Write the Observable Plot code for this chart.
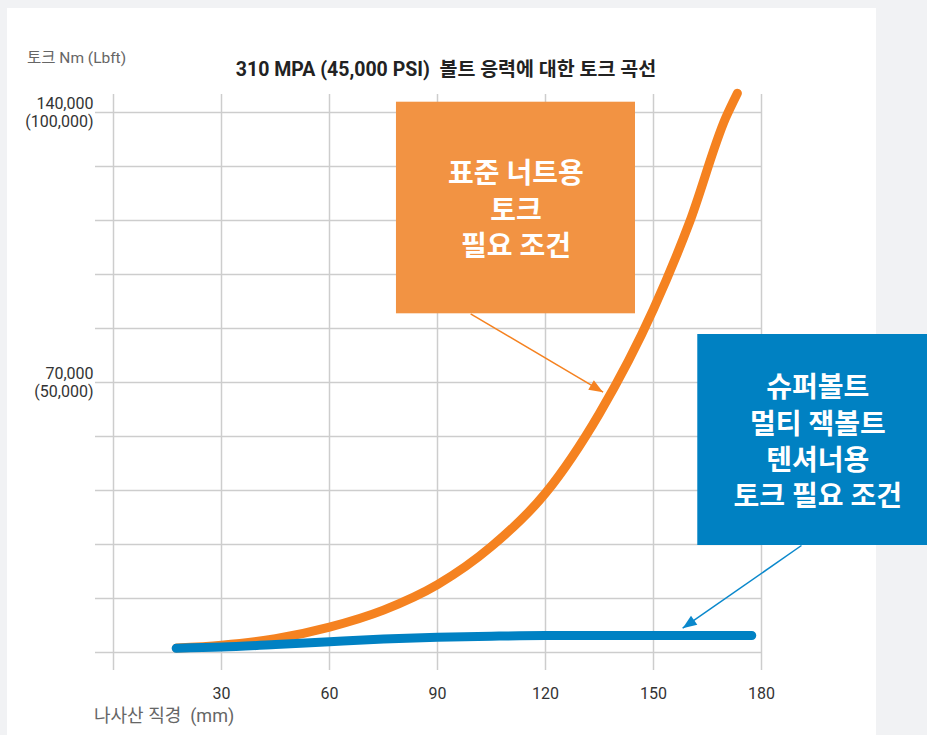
<!DOCTYPE html>
<html><head><meta charset="utf-8">
<script src="https://cdn.jsdelivr.net/npm/d3@7"></script>
<script src="https://cdn.jsdelivr.net/npm/@observablehq/plot@0.6"></script>
<style>
html,body{margin:0;padding:0;background:#f1f2f4;width:927px;height:735px;overflow:hidden;font-family:Roboto,"Noto Sans CJK KR",sans-serif;}
#card{position:absolute;left:7px;top:8px;width:869px;height:740px;background:#fff;}
#chart{position:absolute;left:0;top:0;}
.t{position:absolute;white-space:pre;line-height:1;}
#ylabel{left:27px;top:51px;font-size:15.5px;color:#666;}
#title{left:0;width:892px;text-align:center;top:60px;font-size:19.5px;font-weight:bold;color:#222;}
#xlabel{left:94px;top:707px;font-size:18px;color:#666;}
</style></head><body>
<div id="card"></div>
<div id="chart"></div>
<div class="t" id="ylabel">토크 Nm (Lbft)</div>
<div class="t" id="title">310 MPA (45,000 PSI)  볼트 응력에 대한 토크 곡선</div>
<div class="t" id="xlabel">나사산 직경  (mm)</div>
<script>
// ---- data ----
const xGridTicks = [0, 30, 60, 90, 120, 150, 180];
const xTicks = [30, 60, 90, 120, 150, 180];
const yGridTicks = [0, 14000, 28000, 42000, 56000, 70000, 84000, 98000, 112000, 126000, 140000];
const yTicks = [70000, 140000];
const yTickLabels = ["70,000\n(50,000)", "140,000\n(100,000)"];

// standard nut torque (Nm) vs thread diameter (mm)
const standardX = [17.5, 30, 45, 60, 75, 90, 105, 120, 135, 150, 160, 170, 173.3];
const standardY = [1150, 1900, 3600, 6600, 11000, 17600, 27500, 41300, 62000, 89000, 111500, 138500, 145000];
// superbolt multi-jackbolt tensioner torque
const superX = [17.4, 30, 45, 60, 75, 90, 105, 120, 150, 177.3];
const superY = [1100, 1400, 2050, 2800, 3500, 3950, 4230, 4400, 4420, 4420];

// annotation boxes (in data units)
const boxLabels = ["표준 너트용\n토크\n필요 조건", "슈퍼볼트\n멀티 잭볼트\n텐셔너용\n토크 필요 조건"];
const boxX1 = [78.6, 162.3];
const boxX2 = [145, 229];
const boxY1 = [87810, 27741];
const boxY2 = [142670, 82444];
const boxFill = ["#f29343", "#0081c2"];
// annotation arrows (start -> tip, data units)
const arrowX1 = [99.2, 191.1];
const arrowY1 = [87810, 27741];
const arrowX2 = [136.0, 158.1];
const arrowY2 = [67481, 6300];
const arrowColor = ["#f58220", "#0a88cc"];

// ---- layout ----
const W = 927, H = 735, mL = 95, mR = 166, mT = 94, mB = 65;
const xDomain = [-5, 180];
const yDomain = [-4667, 144667];

const standard = standardX.map((x, i) => ({x, y: standardY[i]}));
const superb = superX.map((x, i) => ({x, y: superY[i]}));
const boxes = boxLabels.map((label, i) => ({label, x1: boxX1[i], x2: boxX2[i], y1: boxY1[i], y2: boxY2[i], fill: boxFill[i]}));
const arrows = arrowX1.map((x1, i) => ({x1, y1: arrowY1[i], x2: arrowX2[i], y2: arrowY2[i], color: arrowColor[i]}));

const xs = Plot.scale({x: {domain: xDomain, range: [mL, W - mR]}});
const ys = Plot.scale({y: {domain: yDomain, range: [H - mB, mT]}});
function head(a) {
  const tx = xs.apply(a.x2), ty = ys.apply(a.y2);
  const sx = xs.apply(a.x1), sy = ys.apply(a.y1);
  const dx = tx - sx, dy = ty - sy, len = Math.hypot(dx, dy);
  const ux = dx / len, uy = dy / len;
  const L = 14, hw = 5.5;
  const bx = tx - ux * L, by = ty - uy * L;
  const pts = [[tx, ty], [bx - uy * hw, by + ux * hw], [bx + uy * hw, by - ux * hw], [tx, ty]];
  return pts.map(([px, py]) => ({x: xs.invert(px), y: ys.invert(py)}));
}

const marks = [
  Plot.gridX(xGridTicks, {stroke: "#cdcdcd", strokeOpacity: 1, strokeWidth: 1.5}),
  Plot.gridY(yGridTicks, {stroke: "#cdcdcd", strokeOpacity: 1, strokeWidth: 1.5}),
  Plot.text(yTicks, {y: d => d, text: (d, i) => yTickLabels[i], frameAnchor: "left", textAnchor: "end", dx: -2, lineHeight: 1.1, fontSize: 16, fill: "#333"}),
  Plot.text(xTicks, {x: d => d, text: d => String(d), frameAnchor: "bottom", dy: 28, fontSize: 16, fill: "#333"}),
  Plot.line(standard, {x: "x", y: "y", stroke: "#f58220", strokeWidth: 9, strokeLinecap: "round", curve: "monotone-x"}),
  Plot.line(superb, {x: "x", y: "y", stroke: "#0081c3", strokeWidth: 9, strokeLinecap: "round", curve: "monotone-x"}),
  Plot.link(arrows, {x1: "x1", y1: "y1", x2: "x2", y2: "y2", stroke: d => d.color, strokeWidth: 1.5}),
  ...arrows.map(a => Plot.line(head(a), {x: "x", y: "y", fill: a.color, stroke: "none"})),
  Plot.rect(boxes, {x1: "x1", x2: "x2", y1: "y1", y2: "y2", fill: d => d.fill}),
  Plot.text(boxes, {x: d => (d.x1 + d.x2) / 2, y: d => (d.y1 + d.y2) / 2, text: "label", fill: "white", fontSize: 28, fontWeight: "bold", lineHeight: 1.29})
];

const chart = Plot.plot({
  width: W, height: H,
  marginLeft: mL, marginRight: mR, marginTop: mT, marginBottom: mB,
  x: {domain: xDomain, axis: null},
  y: {domain: yDomain, axis: null},
  color: {type: "identity"},
  style: {background: "transparent", fontFamily: "Roboto, 'Noto Sans CJK KR', sans-serif"},
  marks
});
document.getElementById("chart").appendChild(chart);
</script>
</body></html>
